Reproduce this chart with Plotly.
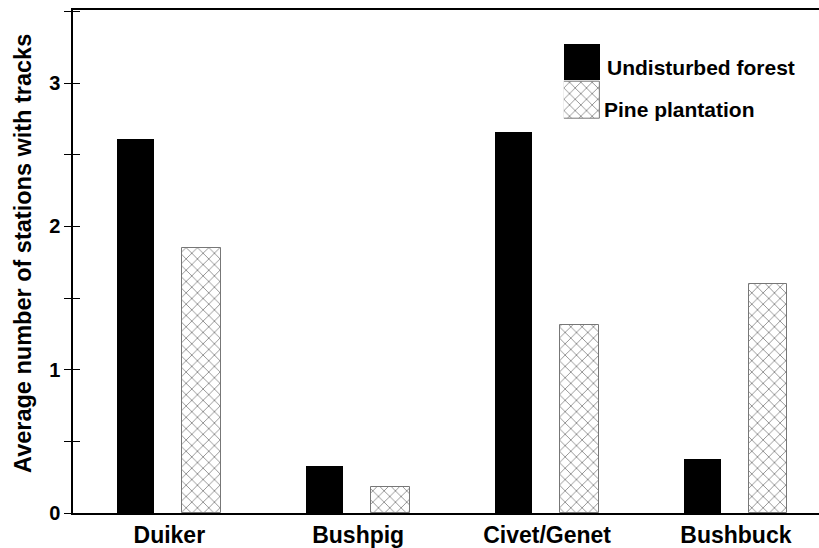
import plotly.graph_objects as go

categories = ["Duiker", "Bushpig", "Civet/Genet", "Bushbuck"]
undisturbed = [2.61, 0.33, 2.66, 0.38]
pine = [1.85, 0.18, 1.31, 1.60]
series_names = ["Undisturbed forest", "Pine plantation"]
y_title = "Average number of stations with tracks"
y_ticks = [0, 1, 2, 3]

FONT = "Liberation Sans, Arial, sans-serif"
HATCH = dict(shape="x", fgcolor="#222", size=8, solidity=0.22)

fig = go.Figure()
fig.add_trace(go.Bar(
    x=list(range(len(categories))), y=undisturbed, name=series_names[0],
    width=0.195, offset=-0.275,
    marker=dict(color="black", line=dict(color="black", width=0)),
    showlegend=False,
))
fig.add_trace(go.Bar(
    x=list(range(len(categories))), y=pine, name=series_names[1],
    width=0.205, offset=0.068,
    marker=dict(color="white", line=dict(color="#777", width=1), pattern=HATCH),
    showlegend=False,
))

# legend keys drawn on a small auxiliary axis pair
fig.add_trace(go.Bar(
    x=[1], y=[1], orientation="h", width=0.95,
    marker=dict(color="black", line=dict(width=0)),
    xaxis="x3", yaxis="y3", showlegend=False, hoverinfo="skip",
))
fig.add_trace(go.Bar(
    x=[1], y=[0], orientation="h", width=0.95,
    marker=dict(color="white", line=dict(color="#777", width=1), pattern=HATCH),
    xaxis="x3", yaxis="y3", showlegend=False, hoverinfo="skip",
))
fig.add_trace(go.Scatter(x=[None], y=[None], yaxis="y2", showlegend=False, hoverinfo="skip"))

fig.update_layout(
    width=819, height=548,
    margin=dict(l=73, r=0, t=10, b=35, autoexpand=False),
    showlegend=False,
    paper_bgcolor="white", plot_bgcolor="white",
    font=dict(family=FONT, color="black"),
    bargap=0,
    xaxis=dict(
        range=[-0.51, 3.44], automargin=False,
        tickmode="array", tickvals=list(range(len(categories))),
        ticktext=["<b>%s</b>" % c for c in categories],
        tickfont=dict(size=23, family=FONT),
        showline=True, linecolor="black", linewidth=2, mirror=True,
        ticks="", showgrid=False, zeroline=False,
    ),
    yaxis=dict(
        range=[0, 3.51], automargin=False,
        tickmode="array", tickvals=y_ticks,
        ticktext=["<b>%d</b>" % v for v in y_ticks],
        tickfont=dict(size=20, family=FONT),
        ticks="outside", ticklen=7, tickwidth=1, tickcolor="black",
        minor=dict(dtick=0.5, ticks="outside", ticklen=7, tickwidth=1, tickcolor="black"),
        showline=True, linecolor="black", linewidth=1.5,
        showgrid=False, zeroline=False,
    ),
    yaxis2=dict(
        range=[0, 3.51], overlaying="y", side="left", automargin=False,
        tickmode="array", tickvals=y_ticks, showticklabels=False,
        ticks="inside", ticklen=7, tickwidth=1, tickcolor="black",
        minor=dict(dtick=0.5, ticks="inside", ticklen=7, tickwidth=1, tickcolor="black"),
        showline=False, showgrid=False, zeroline=False,
    ),
    xaxis3=dict(domain=[0.658, 0.7065], range=[0, 1], visible=False, fixedrange=True,
                automargin=False, anchor="y3"),
    yaxis3=dict(domain=[0.783, 0.935], range=[-0.5, 1.5], visible=False, fixedrange=True,
                anchor="x3", automargin=False),
    annotations=[
        dict(text="<b>%s</b>" % y_title, textangle=-90, xref="paper", yref="paper",
             x=-0.067, y=0.515, xanchor="center", yanchor="middle", showarrow=False,
             font=dict(size=23.5, family=FONT)),
        dict(text="<b>%s</b>" % series_names[0], xref="paper", yref="paper",
             x=0.713, y=0.886, xanchor="left", yanchor="middle", showarrow=False,
             font=dict(size=21, family=FONT)),
        dict(text="<b>%s</b>" % series_names[1], xref="paper", yref="paper",
             x=0.709, y=0.802, xanchor="left", yanchor="middle", showarrow=False,
             font=dict(size=21, family=FONT)),
    ],
)

fig.write_html(
    "out.html",
    config={"displayModeBar": False},
    post_script="document.body.style.margin='0';document.body.style.overflow='hidden';",
)
